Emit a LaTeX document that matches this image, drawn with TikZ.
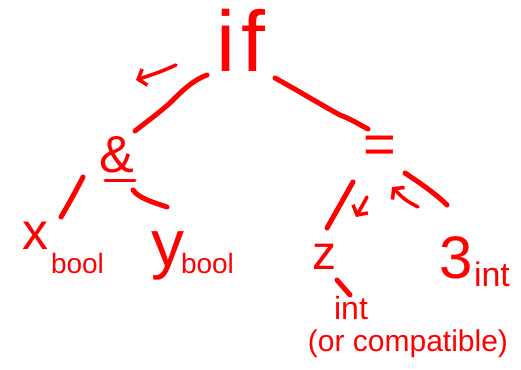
\documentclass[tikz,border=0pt]{standalone}
\usepackage{fontspec}
\setmainfont{Liberation Sans}
\usetikzlibrary{arrows.meta}
\definecolor{marker}{RGB}{255,0,0}
\begin{document}
\begin{tikzpicture}[x=1pt,y=-1pt,
  lbl/.style={text=marker, inner sep=0pt, outer sep=0pt},
  fs/.style={font=\fontsize{#1}{#1}\selectfont},
  edge/.style={draw=marker, line width=5pt, line cap=round, line join=round},
  hint/.style={draw=marker, line width=3.5pt, line cap=round, line join=round,
    -{Straight Barb[length=7pt,width=17pt]}}]
\useasboundingbox (0,0) rectangle (521,369);

% tree labels
\node[lbl, fs=86] (if) at (241,40) {i\kern6pt f};
\node[lbl, fs=52] (amp) at (117,155) {\&};
\node[lbl, fs=56] (eq) at (380,150) {=};
\node[lbl, fs=52] (x) at (35,236) {x};
\node[lbl, fs=28, anchor=base west] (xt) at (51,273) {bool};
\node[lbl, fs=66] (y) at (168,256) {y};
\node[lbl, fs=28, anchor=base west] (yt) at (181,273) {bool};
\node[lbl, fs=48] (z) at (324,257) {z};
\node[lbl, fs=60] (three) at (456,258) {3};
\node[lbl, fs=34, anchor=base west] (threet) at (474,286) {int};
\node[lbl, fs=32] (zt) at (351,308) {int};
\node[lbl, fs=30] (compat) at (408,344) {(or compatible)};

% underline of the conjunction
\draw[edge, line width=3pt] ([shift={(-12,25)}]amp.center) -- ([shift={(18,25)}]amp.center);

% tree edges
\draw[edge] ([shift={(-34,35)}]if.center)
  .. controls +(-14,5) and +(8,-8) .. ([shift={(-68,60)}]if.center)
  .. controls +(-10,10) and +(10,-8) .. ([shift={(18,-24)}]amp.center);
\draw[edge] ([shift={(34,38)}]if.center)
  .. controls +(15,8) and +(-15,-8) .. ([shift={(-40,-35)}]eq.center)
  .. controls +(15,6) and +(-10,-5) .. ([shift={(-12,-21)}]eq.center);
\draw[edge] ([shift={(-34,22)}]amp.center)
  .. controls +(-5,10) and +(6,-10) .. ([shift={(26,-19)}]x.center);
\draw[edge] ([shift={(16,35)}]amp.center)
  .. controls +(5,8) and +(-12,-4) .. ([shift={(-1,-49)}]y.center);
\draw[edge] ([shift={(-27,32)}]eq.center) -- ([shift={(3,-29)}]z.center);
\draw[edge] ([shift={(25,23)}]eq.center)
  .. controls +(12,8) and +(-12,-12) .. ([shift={(-9,-53)}]three.center);
\draw[edge] ([shift={(13,23)}]z.center) -- ([shift={(-1,-13)}]zt.center);

% direction hints
\draw[hint] (176,65) .. controls (160,72) .. (136,80);
\draw[hint] (367,197) -- (356,217);
\draw[hint] (418,207) .. controls (405,200) .. (392,187);
\end{tikzpicture}
\end{document}
